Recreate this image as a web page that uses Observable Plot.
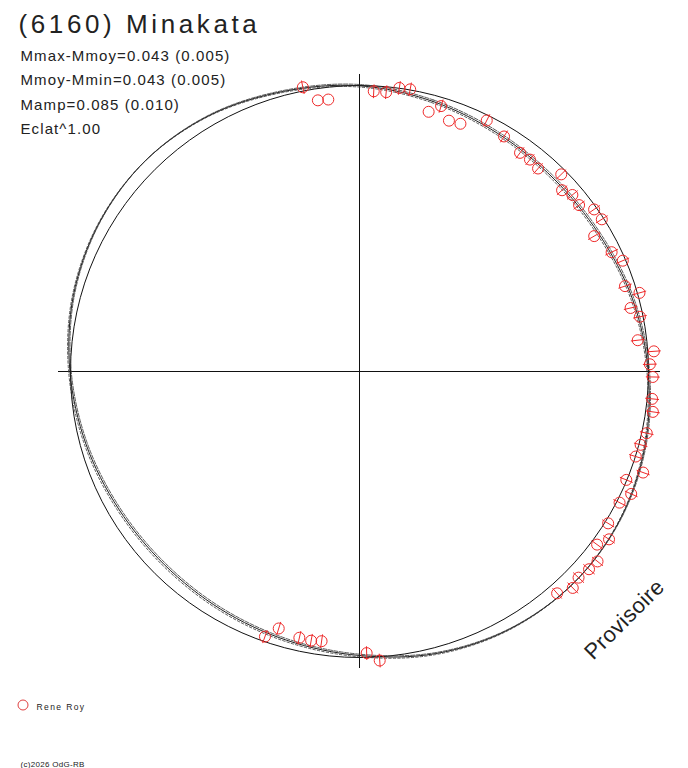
<!DOCTYPE html>
<html>
<head>
<meta charset="utf-8">
<script src="https://cdn.jsdelivr.net/npm/d3@7"></script>
<script src="https://cdn.jsdelivr.net/npm/@observablehq/plot@0.6"></script>
<style>
  html, body { margin: 0; padding: 0; background: #fff; }
</style>
</head>
<body>
<div id="chart"></div>
<script>
// ---- data ----
const title = "(6160) Minakata";
const statLines = ["Mmax-Mmoy=0.043 (0.005)", "Mmoy-Mmin=0.043 (0.005)", "Mamp=0.085 (0.010)", "Eclat^1.00"];
const observer = "Rene Roy";
const credit = "(c)2026 OdG-RB";
const stamp = "Provisoire";

// observations: rotational phase (0-1, clockwise from top) and relative radius
const phase = [0.969,0.976,0.982,0.008,0.015,0.022,0.028,0.041,0.047,0.054,0.061,0.074,0.087,0.100,0.107,0.114,0.126,0.133,0.139,0.146,0.153,0.160,0.166,0.179,0.186,0.200,0.206,0.213,0.219,0.232,0.239,0.246,0.253,0.265,0.272,0.284,0.291,0.298,0.305,0.312,0.318,0.325,0.338,0.345,0.351,0.358,0.364,0.371,0.377,0.385,0.554,0.548,0.535,0.528,0.522,0.496,0.489];
const radius = [1.013,0.959,0.957,0.981,0.981,1.001,1.002,0.939,0.970,0.930,0.934,0.982,0.962,0.945,0.947,0.941,0.981,0.945,0.961,0.957,0.990,0.993,0.940,0.967,0.990,0.966,1.007,0.964,0.989,0.969,1.021,1.005,1.015,1.017,1.025,1.017,1.006,1.001,1.043,0.998,1.033,1.010,1.011,1.044,1.021,1.058,1.053,1.046,1.057,1.034,0.983,0.941,0.954,0.956,0.952,0.985,1.013];
const err = [0.024,0,0,0.024,0.024,0.024,0.024,0,0.024,0,0,0.024,0.024,0.024,0.024,0.024,0.024,0.024,0.024,0.024,0.024,0.024,0.024,0.024,0.024,0.024,0.024,0.024,0.024,0.024,0.024,0.024,0.024,0.024,0.024,0.024,0.024,0.024,0.024,0.024,0.024,0.024,0.024,0.024,0.024,0.024,0.026,0.026,0.026,0.024,0.024,0.024,0.024,0.024,0.024,0.024,0.024];

// fitted light curve: phase angle (deg, clockwise from top) and relative radius
const fitDeg = [0,15,30,45,60,75,90,105,120,135,150,165,180,195,210,225,240,255,270,285,300,315,330,345];
const fitR   = [0.999,0.978,0.960,0.952,0.958,0.978,0.999,1.022,1.040,1.047,1.040,1.021,0.993,0.973,0.960,0.955,0.962,0.980,1.002,1.025,1.040,1.045,1.035,1.014];

// ---- polar projection helpers ----
const rad = d => d * Math.PI / 180;
const obs = phase.map((p, i) => {
  const a = p * 2 * Math.PI;
  return {
    x: radius[i] * Math.sin(a), y: radius[i] * Math.cos(a),
    x1: (radius[i] - err[i]) * Math.sin(a), y1: (radius[i] - err[i]) * Math.cos(a),
    x2: (radius[i] + err[i]) * Math.sin(a), y2: (radius[i] + err[i]) * Math.cos(a),
    err: err[i]
  };
});
const fit = fitDeg.map((d, i) => ({x: fitR[i] * Math.sin(rad(d)), y: fitR[i] * Math.cos(rad(d))}));
const unitCircle = d3.range(0, 360, 3).map(d => ({x: Math.sin(rad(d)), y: Math.cos(rad(d))}));

const W = 688, H = 768;
const cx = 359, cy = 371, sx = 289, sy = 286;
const font = "'Liberation Sans', Arial, sans-serif";
const red = "#ee2a2a";

const chart = Plot.plot({
  width: W, height: H,
  margin: 0,
  x: {domain: [-cx / sx, (W - cx) / sx], axis: null},
  y: {domain: [-(H - cy) / sy, cy / sy], axis: null},
  style: {fontFamily: font, background: "#fff", overflow: "visible"},
  marks: [
    Plot.ruleY([0], {x1: -1.0415, x2: 1.0415, stroke: "#111", strokeWidth: 1}),
    Plot.ruleX([0], {y1: -1.0385, y2: 1.0385, stroke: "#111", strokeWidth: 1}),
    Plot.line(unitCircle, {x: "x", y: "y", curve: "linear-closed", stroke: "#111", strokeWidth: 1}),
    Plot.line(fit, {x: "x", y: "y", curve: "catmull-rom-closed", stroke: "#222", strokeWidth: 1}),
    Plot.line(fit, {x: "x", y: "y", curve: "catmull-rom-closed", stroke: "#333", strokeWidth: 0.8, dx: 1.2, dy: -1.2, strokeDasharray: "4,1.5"}),
    Plot.line(fit, {x: "x", y: "y", curve: "catmull-rom-closed", stroke: "#333", strokeWidth: 0.8, dx: -1.2, dy: 1.2, strokeDasharray: "2.5,2"}),
    Plot.link(obs.filter(d => d.err > 0), {x1: "x1", y1: "y1", x2: "x2", y2: "y2", stroke: red, strokeWidth: 1}),
    Plot.dot(obs, {x: "x", y: "y", r: 5.5, stroke: red, strokeWidth: 1, fill: "none"}),
    Plot.text([title], {frameAnchor: "top-left", dx: 18, dy: 32.5, lineAnchor: "bottom", textAnchor: "start", fontSize: 26, fill: "#222"}),
    Plot.text([statLines.join("\n")], {frameAnchor: "top-left", dx: 20, dy: 133.5, lineAnchor: "bottom", textAnchor: "start", fontSize: 15, lineHeight: 1.62, fill: "#222"}),
    Plot.dot([observer], {frameAnchor: "top-left", dx: 22.5, dy: 704.5, r: 5, stroke: "#e04040", strokeWidth: 1, fill: "none"}),
    Plot.text([observer], {frameAnchor: "top-left", dx: 36, dy: 709, lineAnchor: "bottom", textAnchor: "start", fontSize: 8.5, fill: "#222"}),
    Plot.text([credit], {frameAnchor: "top-left", dx: 20, dy: 766.5, lineAnchor: "bottom", textAnchor: "start", fontSize: 8, fill: "#222"}),
    Plot.text([stamp], {frameAnchor: "top-left", dx: 624, dy: 619, rotate: -45, lineAnchor: "middle", textAnchor: "middle", fontSize: 22, fill: "#222"})
  ]
});

// letter spacing tweaks to match the reference rendering
d3.select(chart).selectAll("text").each(function () {
  const t = this.textContent;
  if (t === title) this.setAttribute("letter-spacing", "3.6");
  else if (t.startsWith("Mmax")) this.setAttribute("letter-spacing", "1.1");
  else if (t === observer) this.setAttribute("letter-spacing", "1.4");
  else if (t === credit) this.setAttribute("letter-spacing", "0.3");
  else if (t === stamp) this.setAttribute("letter-spacing", "0.5");
});

document.getElementById("chart").appendChild(chart);
</script>
</body>
</html>
